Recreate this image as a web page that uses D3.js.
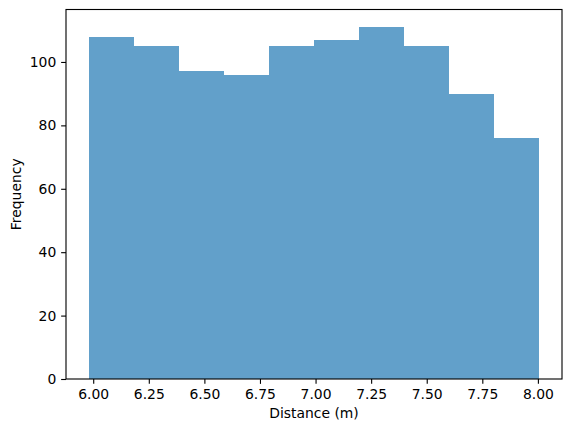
<!DOCTYPE html>
<html><head><meta charset="utf-8">
<script src="https://cdn.jsdelivr.net/npm/d3@7"></script>
<style>body{margin:0;background:#fff;}svg{display:block;font-family:"DejaVu Sans",sans-serif;}</style>
</head><body>
<script>
const binEdges = [5.979, 6.1818, 6.3846, 6.5874, 6.7902, 6.993, 7.1958, 7.3986, 7.6014, 7.8042, 8.007];
const counts = [108, 105, 97, 96, 105, 107, 111, 105, 90, 76];
const xTicks = [6.00, 6.25, 6.50, 6.75, 7.00, 7.25, 7.50, 7.75, 8.00];
const yTicks = [0, 20, 40, 60, 80, 100];

const W = 571, H = 432;
const L = 66, R = 562, T = 9.5, B = 379;
const svg = d3.select("body").append("svg").attr("width", W).attr("height", H);

const span = binEdges[binEdges.length-1] - binEdges[0];
const x = d3.scaleLinear().domain([binEdges[0] - 0.05*span, binEdges[binEdges.length-1] + 0.05*span]).range([L, R]);
const y = d3.scaleLinear().domain([0, d3.max(counts)*1.05]).range([B, T]);

svg.append("g").selectAll("rect").data(counts).join("rect")
  .attr("x", (d,i) => x(binEdges[i]))
  .attr("width", (d,i) => x(binEdges[i+1]) - x(binEdges[i]))
  .attr("y", d => y(d))
  .attr("height", d => B - y(d))
  .attr("fill", "#1f77b4").attr("fill-opacity", 0.7)
  .attr("shape-rendering", "crispEdges");

const xAxis = d3.axisBottom(x).tickValues(xTicks).tickFormat(d3.format(".2f")).tickSize(4.86).tickPadding(4.86);
const gx = svg.append("g").attr("transform", `translate(0,${B})`).call(xAxis);
const yAxis = d3.axisLeft(y).tickValues(yTicks).tickFormat(d3.format("d")).tickSize(4.86).tickPadding(4.86);
const gy = svg.append("g").attr("transform", `translate(${L},0)`).call(yAxis);
[gx, gy].forEach(g => {
  g.select(".domain").remove();
  g.selectAll("line").attr("stroke", "#000").attr("stroke-width", 1.11);
  g.selectAll("text").attr("font-family", "DejaVu Sans").attr("font-size", 13.9).attr("fill", "#000");
});
gx.selectAll("text").attr("dy", "0.75em");

svg.append("rect").attr("x", L).attr("y", T).attr("width", R-L).attr("height", B-T)
  .attr("fill", "none").attr("stroke", "#000").attr("stroke-width", 1.11);

svg.append("text").attr("x", (L+R)/2).attr("y", 418).attr("text-anchor", "middle")
  .attr("font-size", 13.9).attr("fill", "#000").text("Distance (m)");
svg.append("text").attr("transform", `translate(21,${(T+B)/2}) rotate(-90)`).attr("text-anchor", "middle")
  .attr("font-size", 13.9).attr("fill", "#000").text("Frequency");
</script>
</body></html>
